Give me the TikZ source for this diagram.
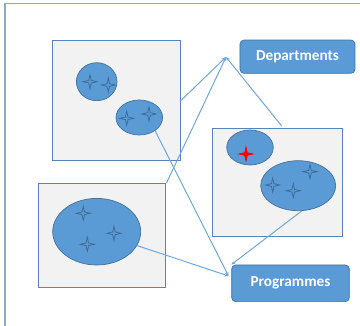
\documentclass[tikz,border=0pt]{standalone}
\usepackage{fontspec}
\setmainfont{Carlito}
\usetikzlibrary{shapes.geometric,arrows.meta}
\definecolor{groupfill}{HTML}{F2F2F2}
\definecolor{groupline}{HTML}{5A84B8}
\definecolor{clusterfill}{HTML}{5B9BD5}
\definecolor{clusterline}{HTML}{41719C}
\definecolor{starline}{HTML}{3E6D9C}
\definecolor{linkcol}{HTML}{6FA8DC}
\definecolor{framecol}{HTML}{8EA9C1}
\begin{document}
\begin{tikzpicture}[x=1pt,y=-1pt,
  group/.style={draw=groupline,fill=groupfill,line width=0.9pt,inner sep=0pt},
  cluster/.style={ellipse,draw=clusterline,fill=clusterfill,line width=0.7pt,inner sep=0pt},
  label box/.style={rounded corners=4pt,draw=clusterline,fill=clusterfill,line width=0.7pt,
    text=white,font=\bfseries\fontsize{15.2}{17}\selectfont,inner sep=0pt},
  link/.style={draw=linkcol,line width=1pt,-{Stealth[length=4pt,width=3.5pt]}},
  star/.pic={\draw[pic actions] (0,-7) -- (1.3,-1.3) -- (7,0) -- (1.3,1.3) -- (0,7)
      -- (-1.3,1.3) -- (-7,0) -- (-1.3,-1.3) -- cycle;},
  member/.style={draw=starline,fill=clusterfill,line width=0.8pt},
  flagged/.style={draw=red,fill=red,line width=0.8pt}]
  \useasboundingbox (0,0) rectangle (360,326);

  % outer frame edges
  \draw[framecol,line width=1.4pt] (5,326) -- (5,3.5) -- (360,3.5);

  % group boxes
  \node[group,minimum width=127.6pt,minimum height=120pt] (boxA) at (116.5,100.7) {};
  \node[group,minimum width=127.3pt,minimum height=104.3pt] (boxB) at (102.3,235.8) {};
  \node[group,minimum width=130.4pt,minimum height=107.3pt] (boxC) at (277.5,182.6) {};

  % clusters
  \node[cluster,minimum width=40.6pt,minimum height=38pt] (a1) at (96.7,81.7) {};
  \node[cluster,minimum width=46.6pt,minimum height=35pt] (a2) at (139.3,117.5) {};
  \node[cluster,minimum width=88pt,minimum height=66.6pt] (b1) at (96.7,231.7) {};
  \node[cluster,minimum width=46.6pt,minimum height=35pt] (c1) at (250,147.5) {};
  \node[cluster,minimum width=75pt,minimum height=50pt] (c2) at (298.2,185.7) {};

  % members
  \pic[member] at (90,81.7) {star};
  \pic[member] at (108.3,85) {star};
  \pic[member] at (126.7,118.3) {star};
  \pic[member] at (149,114) {star};
  \pic[member] at (83.3,213.3) {star};
  \pic[member] at (114,233.3) {star};
  \pic[member] at (87.3,244.3) {star};
  \pic[flagged] at (246,154) {star};
  \pic[member] at (272.7,185) {star};
  \pic[member] at (293.3,190.7) {star};
  \pic[member] at (310,171.7) {star};

  % labels
  \node[label box,minimum width=115pt,minimum height=33.3pt] (dept) at (297.5,56.7) {Departments};
  \node[label box,minimum width=117.6pt,minimum height=36.7pt] (prog) at (290.5,283.3) {Programmes};

  % link end points
  \coordinate (depttip) at (226,57);
  \coordinate (progtip) at (228.5,276);
  \coordinate (cstart) at (281.7,126);

  % links
  \draw[link] (boxA.east) -- (depttip);
  \draw[link] (boxB.north east) -- (depttip);
  \draw[link] (cstart) -- (depttip);
  \draw[link] (a2.-40) -- (progtip);
  \draw[link] (b1.-19) -- (progtip);
  \draw[link] (c2.-82) -- (prog.north west);
\end{tikzpicture}
\end{document}
